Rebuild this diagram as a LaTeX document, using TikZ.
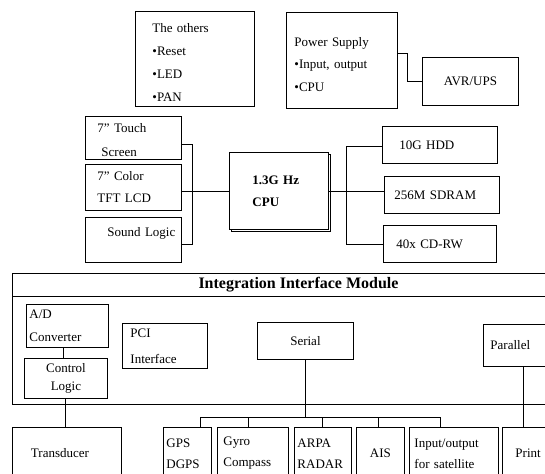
\documentclass[tikz,border=0pt]{standalone}
\usepackage{fontspec}
\setmainfont{Liberation Serif}
\usetikzlibrary{positioning,shadows}

\begin{document}
\begin{tikzpicture}[x=1pt,y=-1pt,line width=.9pt,
  every node/.style={font=\fontsize{13}{22}\selectfont,inner sep=0pt},
  box/.style={draw,anchor=north west,align=left,fill=white},
  low/.style={box,minimum height=52pt,font=\fontsize{13}{21}\selectfont}]
\clip (0,0) rectangle (545,473);

% top row
\node[box,minimum width=119pt,minimum height=95pt,text width=85pt,font=\fontsize{13}{23}\selectfont] (others) at (135,11) {\rule{0pt}{17pt}The others\\\textbullet Reset\\\textbullet LED\\\textbullet PAN};
\node[box,minimum width=111pt,minimum height=96pt,text width=95pt,font=\fontsize{13}{22.5}\selectfont] (power) at (286,12) {\rule{0pt}{17pt}Power Supply\\\textbullet Input, output\\\textbullet CPU};
\node[box,minimum width=96pt,minimum height=48pt,align=center] (avr) at (422,57) {AVR/UPS};
\draw (power.east |- 0,53) -- (407,53) |- (avr.west);

% display side
\node[box,minimum width=96pt,minimum height=43pt,text width=72pt,font=\fontsize{13}{24}\selectfont] (touch) at (85,116) {\rule{0pt}{13pt}7” Touch\\\hspace*{4pt}Screen};
\node[box,minimum width=96pt,minimum height=46pt,text width=72pt] (tft) at (85,164) {7” Color\\TFT LCD};
\node[box,minimum width=96pt,minimum height=45pt,text width=52pt,font=\fontsize{13}{15}\selectfont] (sound) at (85,217) {Sound~Logic\\~};
\node[box,minimum width=99pt,minimum height=77pt,text width=53pt,font=\fontsize{13}{22}\selectfont\bfseries,
  copy shadow={shadow xshift=2pt,shadow yshift=-2pt}] (cpu) at (229,152) {1.3G Hz\\CPU};
\draw (touch.east |- 0,144) -| (192,244) -- (sound.east |- 0,244);
\draw (tft.east |- 0,191) -- (cpu.west |- 0,191);

% storage side
\node[box,minimum width=115pt,minimum height=37pt,text width=81pt] (hdd) at (382,126) {10G HDD};
\node[box,minimum width=115pt,minimum height=37pt,text width=95pt] (sdram) at (384,176) {256M SDRAM};
\node[box,minimum width=113pt,minimum height=37pt,text width=87pt] (cdrw) at (383,225) {40x CD-RW};
\draw (cpu.east |- 0,191) -- (sdram.west |- 0,191);
\draw (hdd.west |- 0,146) -| (346.5,244) -- (cdrw.west |- 0,244);

% interface module
\node[draw,anchor=north west,minimum width=548pt,minimum height=131pt] (module) at (12,273) {};
\node[font=\fontsize{16}{18}\selectfont\bfseries] (title) at (298.5,285) {Integration Interface Module};
\draw (module.west |- 0,296) -- (module.east |- 0,296);
\node[box,minimum width=82pt,minimum height=43pt,text width=76pt,font=\fontsize{13}{23}\selectfont] (adc) at (26,304) {A/D\\Converter};
\node[box,minimum width=83pt,minimum height=40pt,align=center,font=\fontsize{13}{18}\selectfont] (ctrl) at (24,358) {Control\\Logic};
\node[box,minimum width=85pt,minimum height=45pt,text width=69pt,font=\fontsize{13}{26}\selectfont] (pci) at (122,323) {PCI\\Interface};
\node[box,minimum width=96pt,minimum height=37pt,align=center] (serial) at (257,322) {Serial};
\node[box,minimum width=77pt,minimum height=42pt,text width=63pt] (parallel) at (483,324) {Parallel};
\draw (adc.south -| 63,0) -- (ctrl.north -| 63,0);

% devices
\node[low,minimum width=109pt,text width=72pt] (trans) at (12,427) {Transducer};
\node[low,minimum width=48pt,text width=42pt] (gps) at (163,427) {GPS\\DGPS};
\node[low,minimum width=71pt,text width=59pt] (gyro) at (217,427) {Gyro\\Compass};
\node[low,minimum width=57pt,text width=51pt] (arpa) at (294,427) {ARPA\\RADAR};
\node[low,minimum width=48pt,align=center] (ais) at (356,427) {AIS};
\node[low,minimum width=89pt,text width=79pt] (io) at (409,427) {Input/output\\for satellite};
\node[low,minimum width=58pt,text width=32pt] (print) at (502,427) {Print};

\draw (ctrl.south -| 65,0) -- (trans.north -| 65,0);
\draw (serial.south) -- (serial.south |- 0,417);
\draw (200,417) -- (440,417);
\foreach \dev/\xx in {gps/200,gyro/248,arpa/322,ais/378,io/440}
  \draw (\dev.north -| \xx,0) -- (\xx,417);
\draw (parallel.south -| 523,0) -- (print.north -| 523,0);

\end{tikzpicture}
\end{document}
